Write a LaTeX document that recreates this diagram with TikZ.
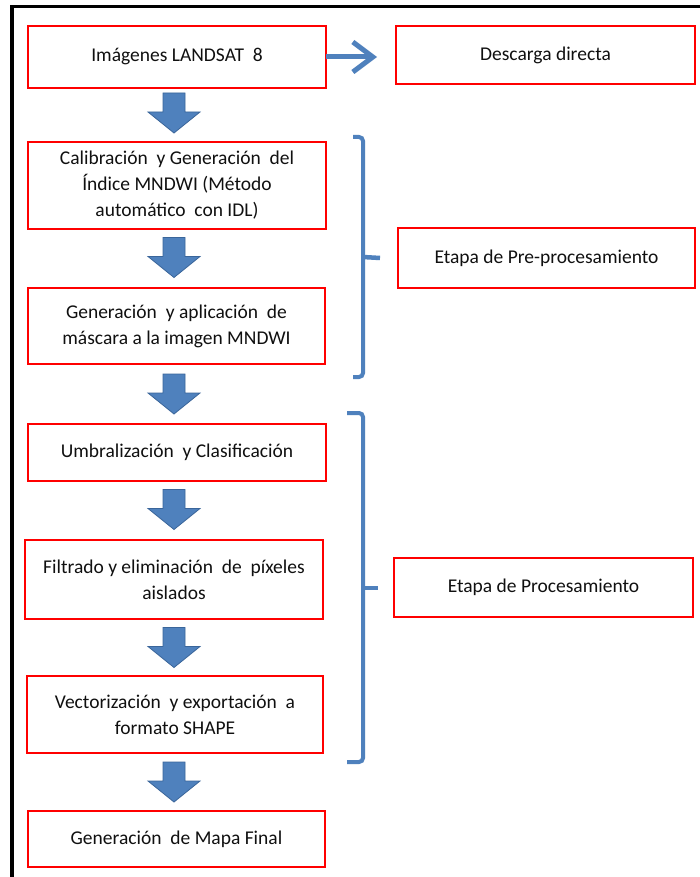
\documentclass[tikz,border=0pt]{standalone}
\usepackage{fontspec}
\setmainfont{Carlito}
\usetikzlibrary{arrows.meta,calc}
\definecolor{stepblue}{HTML}{4F81BD}
\definecolor{stepedge}{HTML}{3A659A}
\definecolor{inktext}{HTML}{101010}
\tikzset{
  stepbox/.style={draw=red, line width=2.5pt, fill=white, minimum width=298pt,
    align=center, inner sep=2pt, outer sep=0pt, text=inktext,
    font=\fontsize{19.5}{26}\selectfont},
  blockarr/.style={fill=stepblue, draw=stepedge, line width=0.8pt, line join=miter},
  bracket/.style={draw=stepblue, line width=4pt, rounded corners=4pt},
  nub/.style={draw=stepblue, line width=4.5pt},
  sidearrow/.style={draw=stepblue, line width=5pt,
    -{Straight Barb[length=20pt,width=30pt,line width=5pt]}}
}
% block arrow pointing down, centred on the given coordinate
\newcommand\flowdown[1]{%
  \path[blockarr] (#1) ++(-11,-20) -- ++(22,0) -- ++(0,19) -- ++(15,0)
    -- ++(-26,21) -- ++(-26,-21) -- ++(15,0) -- cycle;}
\begin{document}
\begin{tikzpicture}[x=1pt,y=-1pt]
\useasboundingbox (0,0) rectangle (700,877);
\fill[white] (0,0) rectangle (700,877);

% frame
\draw[line width=3.5pt] (12,877) -- (12,6.5) -- (700,6.5);

% main column
\node[stepbox, minimum height=62pt] (b1) at (177,57) {Imágenes LANDSAT\ \ 8};
\node[stepbox, minimum height=87pt] (b2) at (177,185.5)
  {Calibración\ \ y Generación\ \ del\\Índice MNDWI (Método\\automático\ \ con IDL)};
\node[stepbox, minimum height=76pt, minimum width=297pt] (b3) at (176.5,326)
  {Generación\ \ y aplicación\ \ de\\máscara a la imagen MNDWI};
\node[stepbox, minimum height=57pt] (b4) at (177,452.5)
  {Umbralización\ \ y Clasificación};
\node[stepbox, minimum height=79pt] (b5) at (174,579.5)
  {Filtrado y eliminación\ \ de\ \ píxeles\\aislados};
\node[stepbox, minimum height=77pt, minimum width=296pt] (b6) at (175,714.5)
  {Vectorización\ \ y exportación\ \ a\\formato SHAPE};
\node[stepbox, minimum height=56pt, minimum width=297pt] (b7) at (176.5,839)
  {Generación\ \ de Mapa Final};

% side boxes
\node[stepbox, minimum height=58pt, minimum width=299pt] (d) at (545.5,55) {Descarga directa};
\node[stepbox, minimum height=60pt, minimum width=297pt] (pre) at (546.5,258) {Etapa de Pre-procesamiento};
\node[stepbox, minimum height=59pt, minimum width=299pt] (proc) at (543.5,587.5) {Etapa de Procesamiento};

% flow arrows between consecutive steps
\flowdown{$(174,0 |- b1.south)!0.5!(174,0 |- b2.north)+(0,-2)$}
\flowdown{$(174,0 |- b2.south)!0.5!(174,0 |- b3.north)+(0,-1)$}
\flowdown{$(174,0 |- b3.south)!0.5!(174,0 |- b4.north)+(0,0)$}
\flowdown{$(174,0 |- b4.south)!0.5!(174,0 |- b5.north)+(0,-1)$}
\flowdown{$(174,0 |- b5.south)!0.5!(174,0 |- b6.north)+(0,0)$}
\flowdown{$(174,0 |- b6.south)!0.5!(174,0 |- b7.north)+(0,0)$}

% arrow to the download box
\coordinate (dl) at ($(d.west)+(-19,2)$);
\draw[sidearrow] (b1.east) -- (dl |- b1.east);

% brackets grouping the stages
\path[bracket] (353,137) -- (363,137) -- (363,377) -- (353,377);
\coordinate (n1) at ($(pre.west)+(-18,0)$);
\draw[nub] (363,257) -- (n1);

\path[bracket] (347,413) -- (363,413) -- (363,762) -- (347,762);
\coordinate (n2) at ($(proc.west)+(-16,0)$);
\draw[nub] (363,588) -- (n2 |- 0,588);
\end{tikzpicture}
\end{document}
